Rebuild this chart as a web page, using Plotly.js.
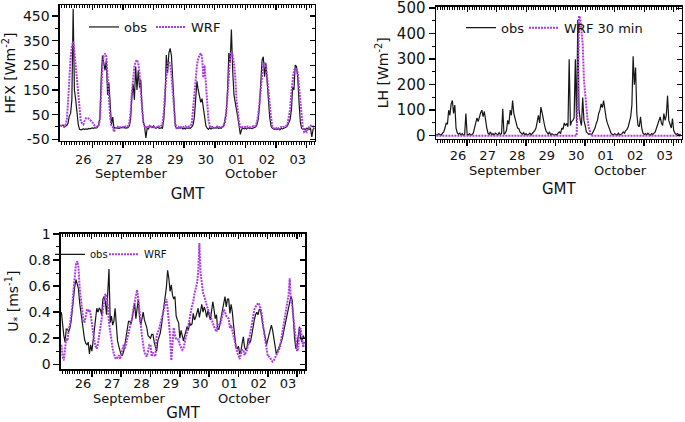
<!DOCTYPE html>
<html><head><meta charset="utf-8">
<script src="https://cdn.plot.ly/plotly-3.0.1.min.js"></script>
<style>html,body{margin:0;padding:0;background:#fff;}#chart{width:685px;height:422px;}</style>
</head><body><div id="chart"></div>
<script>
// ---------- time grid (hours since 25 Sep 00:00 GMT, hourly) ----------
const hourlyTimes = [];
for (let h = -1; h <= 198; h++) hourlyTimes.push(h);

// ---------- tick labels ----------
const dayTickHours = [24, 48, 72, 96, 120, 144, 168, 192];
const dayLabels = ['26', '27', '28', '29', '30', '01', '02', '03'];
const monthLabels = ['September', 'October'];
const monthLabelHours = [55, 149];
const hfxTicks = [-50, 50, 150, 250, 350, 450];
const hfxTickText = ['-50', '50', '150', '250', '350', '450'];
const lhTicks = [0, 100, 200, 300, 400, 500];
const lhTickText = ['0', '100', '200', '300', '400', '500'];
const uTicks = [0, 0.2, 0.4, 0.6, 0.8, 1];
const uTickText = ['0', '0.2', '0.4', '0.6', '0.8', '1'];

// ---------- HFX [W m-2] ----------
const hfxObs = [8,
  5, 8, 2, 3, 6, 15, 45, 55, 110, 480, 150, 110, 55, 10, -10, -12, -10, -8, -10, -8, -10, -6, -8, -5,
  -4, -6, -3, -5, -2, 10, 40, 200, 290, 260, 230, 270, 130, 180, 60, 10, 40, -5, -3, -4, -2, -6, -3, -2,
  -3, -2, -5, -4, -3, 5, 30, 120, 175, 110, 245, 150, 230, 160, 190, 80, 20, 0, -45, -5, -8, 5, 0, -2,
  5, -3, -5, 0, -4, -6, -3, -5, 30, 110, 292, 218, 300, 319, 290, 177, 69, 5, -5, -6, -3, -5, -2, -8,
  -5, -8, -3, -6, -4, -5, 0, 10, 40, 120, 185, 150, 117, 100, 115, 83, 36, 5, -5, -10, -3, -8, -5, -3,
  -3, -5, -2, -6, -3, -5, 0, 5, 30, 60, 150, 300, 260, 395, 230, 130, 100, 60, 40, 5, -30, -10, -5, -8,
  -5, -8, -3, -6, -4, -7, -5, -3, 0, 10, 30, 83, 200, 270, 285, 204, 258, 180, 120, 40, 5, -5, -8, -10,
  -8, -10, -5, -12, -6, -8, -5, -3, 0, 5, 15, 30, 69, 160, 150, 251, 245, 200, 100, 20, -5, -10, -8, -10,
  -5, -8, -10, -6, -40, -10, -5];
const hfxWrf = [4,
  5, 2, 0, 8, 28, 100, 200, 280, 330, 346, 305, 250, 180, 110, 69, 22, 15, 10, 25, 35, 33, 35, 30, 25,
  20, 10, 5, 0, 2, 5, 30, 150, 250, 290, 298, 285, 200, 110, 40, 5, 0, -20, -5, 2, 0, 3, -2, 0,
  0, -3, 2, 0, 3, 15, 60, 140, 200, 245, 265, 272, 260, 220, 140, 70, 20, 3, -5, 0, -2, 5, 0, -3,
  0, -5, -3, 0, 2, 0, 5, 15, 60, 140, 210, 258, 265, 255, 210, 150, 70, 15, -5, -8, 0, -3, 2, 0,
  0, 3, -2, 0, 2, 5, 15, 80, 137, 200, 250, 280, 292, 299, 285, 200, 250, 160, 90, 30, 5, -3, 0, -5,
  -3, 0, 2, -2, 0, 3, 0, 5, 20, 60, 130, 220, 280, 306, 290, 258, 204, 110, 60, 20, -5, -3, 0, -2,
  0, -3, 2, 0, -2, 0, 3, 0, 5, 20, 49, 100, 163, 225, 255, 262, 251, 200, 140, 80, 42, 5, -5, -8,
  -5, -3, -8, -5, 0, -3, 0, 2, 5, 15, 40, 70, 140, 190, 230, 238, 235, 220, 163, 90, 20, -5, -20, -15,
  -20, -5, 0, 5, 3, 0, 2];

// ---------- LH [W m-2] ----------
const lhObs = [5,
  3, 8, 5, 2, 10, 15, 30, 50, 45, 100, 80, 125, 138, 87, 120, 30, 12, 5, 10, 3, 8, 2, 5, 87,
  5, 3, 8, 2, 5, 10, 30, 50, 70, 55, 80, 90, 100, 75, 95, 50, 30, 10, 5, 15, 3, 8, 2, 10,
  5, 3, 12, 5, 8, 106, 5, 10, 20, 60, 45, 100, 80, 138, 87, 60, 48, 30, 28, 15, 10, 5, 12, 3,
  8, 2, 5, 10, 3, 8, 15, 20, 30, 60, 80, 50, 112, 90, 60, 40, 20, 10, 5, 15, 3, 8, 5, 2,
  5, 3, 10, 15, 8, 30, 25, 50, 40, 48, 35, 300, 40, 55, 60, 70, 300, 50, 455, 100, 60, 40, 150, 60,
  40, 15, 10, 5, 8, 3, 10, 20, 30, 48, 60, 87, 100, 125, 110, 138, 100, 70, 50, 35, 20, 10, 5, 3,
  8, 5, 2, 10, 3, 5, 8, 15, 10, 20, 25, 35, 60, 74, 120, 312, 200, 267, 87, 40, 35, 74, 30, 10,
  5, 8, 3, 10, 5, 2, 8, 5, 10, 15, 30, 45, 60, 74, 50, 40, 87, 60, 80, 157, 60, 40, 30, 67,
  20, 10, 5, 8, 3, 5, 2];
const lhWrfTimes = [-1, 113, 114, 115, 116, 117, 118, 119, 120, 121, 122, 123, 124, 125, 198];
const lhWrf = [0, 0, 150, 470, 460, 420, 360, 220, 160, 100, 60, 30, 10, 0, 0];

// ---------- U* [m s-1] ----------
const ustarObs = [0.40,
  0.30, 0.22, 0.17, 0.27, 0.27, 0.25, 0.28, 0.33, 0.42, 0.52, 0.60, 0.65, 0.60, 0.58, 0.47, 0.40, 0.32, 0.22, 0.19, 0.16, 0.15, 0.17, 0.08, 0.15,
  0.10, 0.18, 0.28, 0.36, 0.43, 0.40, 0.43, 0.42, 0.38, 0.50, 0.52, 0.48, 0.38, 0.55, 0.73, 0.32, 0.37, 0.30, 0.33, 0.43, 0.25, 0.18, 0.14, 0.10,
  0.07, 0.07, 0.10, 0.15, 0.20, 0.26, 0.33, 0.33, 0.31, 0.35, 0.41, 0.47, 0.35, 0.45, 0.50, 0.36, 0.30, 0.35, 0.40, 0.34, 0.31, 0.28, 0.22, 0.21,
  0.20, 0.23, 0.23, 0.17, 0.13, 0.10, 0.18, 0.21, 0.24, 0.30, 0.37, 0.44, 0.50, 0.59, 0.72, 0.66, 0.56, 0.61, 0.53, 0.50, 0.52, 0.37, 0.34, 0.32,
  0.20, 0.26, 0.22, 0.18, 0.22, 0.27, 0.29, 0.26, 0.32, 0.30, 0.31, 0.39, 0.34, 0.36, 0.40, 0.43, 0.36, 0.40, 0.46, 0.40, 0.44, 0.41, 0.36, 0.41,
  0.37, 0.34, 0.41, 0.48, 0.42, 0.35, 0.38, 0.27, 0.27, 0.32, 0.40, 0.45, 0.50, 0.52, 0.44, 0.50, 0.50, 0.39, 0.46, 0.40, 0.30, 0.22, 0.13, 0.12,
  0.14, 0.08, 0.10, 0.16, 0.21, 0.13, 0.11, 0.13, 0.20, 0.16, 0.18, 0.23, 0.30, 0.34, 0.38, 0.40, 0.38, 0.42, 0.42, 0.34, 0.30, 0.25, 0.20, 0.15,
  0.19, 0.23, 0.26, 0.30, 0.26, 0.20, 0.13, 0.08, 0.10, 0.13, 0.15, 0.17, 0.20, 0.25, 0.30, 0.34, 0.40, 0.44, 0.48, 0.52, 0.49, 0.33, 0.20, 0.12,
  0.14, 0.22, 0.29, 0.20, 0.17, 0.22, 0.20];
const ustarWrf = [0.15,
  0.06, 0.03, 0.13, 0.20, 0.18, 0.27, 0.30, 0.36, 0.45, 0.58, 0.70, 0.77, 0.79, 0.75, 0.58, 0.50, 0.43, 0.34, 0.32, 0.37, 0.42, 0.41, 0.42, 0.38,
  0.30, 0.23, 0.18, 0.14, 0.12, 0.16, 0.22, 0.28, 0.35, 0.43, 0.49, 0.54, 0.52, 0.45, 0.32, 0.24, 0.16, 0.12, 0.08, 0.05, 0.04, 0.06, 0.07, 0.04,
  0.08, 0.13, 0.15, 0.12, 0.16, 0.21, 0.24, 0.30, 0.32, 0.36, 0.43, 0.48, 0.55, 0.57, 0.50, 0.39, 0.33, 0.22, 0.15, 0.09, 0.07, 0.06, 0.10, 0.15,
  0.15, 0.06, 0.09, 0.07, 0.06, 0.22, 0.24, 0.27, 0.31, 0.35, 0.39, 0.42, 0.46, 0.50, 0.43, 0.34, 0.22, 0.03, 0.20, 0.28, 0.22, 0.19, 0.19, 0.19,
  0.15, 0.13, 0.11, 0.12, 0.18, 0.21, 0.25, 0.31, 0.34, 0.40, 0.45, 0.48, 0.54, 0.58, 0.62, 0.70, 0.93, 0.70, 0.61, 0.55, 0.52, 0.48, 0.45, 0.42,
  0.40, 0.37, 0.35, 0.31, 0.29, 0.27, 0.25, 0.31, 0.31, 0.30, 0.35, 0.40, 0.42, 0.40, 0.37, 0.36, 0.35, 0.28, 0.30, 0.26, 0.21, 0.18, 0.12, 0.09,
  0.07, 0.04, 0.08, 0.11, 0.11, 0.07, 0.09, 0.11, 0.15, 0.21, 0.26, 0.32, 0.38, 0.42, 0.44, 0.45, 0.47, 0.46, 0.43, 0.39, 0.31, 0.24, 0.16, 0.10,
  0.06, 0.06, 0.05, 0.03, 0.02, 0.03, 0.05, 0.07, 0.09, 0.11, 0.13, 0.19, 0.25, 0.31, 0.36, 0.42, 0.49, 0.53, 0.66, 0.49, 0.45, 0.36, 0.28, 0.21,
  0.10, 0.12, 0.27, 0.27, 0.20, 0.13, 0.18];

// ---------- styling ----------
const FONT = '"DejaVu Sans", "Liberation Sans", Arial, sans-serif';
const INK = '#111';
const OBS_COLOR = '#161616';
const WRF_COLOR = '#a93de0';
const XRANGE = [-1.3, 198.5];

function obsTrace(x, y, xa, ya, legend) {
  return {type: 'scatter', mode: 'lines', x: x, y: y, name: 'obs', xaxis: xa, yaxis: ya,
    legend: legend, line: {color: OBS_COLOR, width: 1.2}, hoverinfo: 'skip'};
}
function wrfTrace(x, y, xa, ya, legend, name) {
  return {type: 'scatter', mode: 'lines', x: x, y: y, name: name, xaxis: xa, yaxis: ya,
    legend: legend, line: {color: WRF_COLOR, width: 2, dash: '2px,1px'}, hoverinfo: 'skip'};
}
function dummy(xa, ya) {
  return {type: 'scatter', mode: 'lines', x: [null], y: [null], xaxis: xa, yaxis: ya,
    showlegend: false, hoverinfo: 'skip'};
}

const traces = [
  obsTrace(hourlyTimes, hfxObs, 'x', 'y', 'legend'),
  wrfTrace(hourlyTimes, hfxWrf, 'x', 'y', 'legend2', 'WRF'),
  obsTrace(hourlyTimes, lhObs, 'x2', 'y2', 'legend3'),
  wrfTrace(lhWrfTimes, lhWrf, 'x2', 'y2', 'legend4', 'WRF 30 min'),
  obsTrace(hourlyTimes, ustarObs, 'x3', 'y3', 'legend5'),
  wrfTrace(hourlyTimes, ustarWrf, 'x3', 'y3', 'legend6', 'WRF'),
  dummy('x4', 'y4'), dummy('x5', 'y5'), dummy('x6', 'y6')
];

function bottomAxis(domain, anchor, standoff, labelStandoff) {
  return {domain: domain, anchor: anchor, range: XRANGE, tickmode: 'array',
    tickvals: dayTickHours, ticktext: dayLabels, ticks: 'outside', ticklen: 6, tickwidth: 1.5,
    tickcolor: '#000', ticklabelshift: -9, ticklabelstandoff: labelStandoff,
    ticklabeloverflow: 'allow',
    minor: {tickmode: 'linear', tick0: 0, dtick: 2, ticks: 'outside', ticklen: 3, tickwidth: 1, tickcolor: '#000'},
    showline: true, linewidth: 1.5, linecolor: '#000', showgrid: false, zeroline: false,
    automargin: false, fixedrange: true,
    tickfont: {family: FONT, size: 13, color: INK},
    title: {text: 'GMT', font: {family: FONT, size: 15, color: INK}, standoff: standoff}};
}
function topAxis(over, anchor) {
  return {overlaying: over, side: 'top', anchor: anchor, range: XRANGE, tickmode: 'array',
    tickvals: dayTickHours, ticks: 'inside', ticklen: 5, tickwidth: 1.2, tickcolor: '#000',
    minor: {tickmode: 'linear', tick0: 0, dtick: 2, ticks: 'inside', ticklen: 3, tickwidth: 1, tickcolor: '#000'},
    showticklabels: false, showline: true, linewidth: 1.5, linecolor: '#000',
    showgrid: false, zeroline: false, automargin: false, fixedrange: true};
}
function leftAxis(domain, anchor, range, tickvals, ticktext, minorStep, title, fontSize, standoff) {
  return {domain: domain, anchor: anchor, range: range, tickmode: 'array', tickvals: tickvals,
    ticktext: ticktext, ticklabeloverflow: 'allow',
    ticks: 'outside', ticklen: 6, tickwidth: 1.5, tickcolor: '#000',
    minor: {tickmode: 'linear', tick0: 0, dtick: minorStep, ticks: 'outside', ticklen: 3, tickwidth: 1, tickcolor: '#000'},
    showline: true, linewidth: 1.5, linecolor: '#000', showgrid: false, zeroline: false,
    automargin: false, fixedrange: true,
    tickfont: {family: FONT, size: fontSize, color: INK},
    title: {text: title, font: {family: FONT, size: 14, color: INK}, standoff: standoff}};
}
function rightAxis(over, anchor, range, tickvals, minorStep) {
  return {overlaying: over, side: 'right', anchor: anchor, range: range, tickmode: 'array',
    tickvals: tickvals, ticks: 'inside', ticklen: 5, tickwidth: 1.2, tickcolor: '#000',
    minor: {tickmode: 'linear', tick0: 0, dtick: minorStep, ticks: 'inside', ticklen: 3, tickwidth: 1, tickcolor: '#000'},
    showticklabels: false, showline: true, linewidth: 1.5, linecolor: '#000',
    showgrid: false, zeroline: false, automargin: false, fixedrange: true};
}

const hfxRange = [-57, 495];
const lhRange = [-13, 506];
const uRange = [-0.036, 1.003];

const dTL = {x: [0.08759, 0.45985], y: [0.6659, 0.98815]};
const dTR = {x: [0.63650, 0.99518], y: [0.67062, 0.98412]};
const dBL = {x: [0.08905, 0.44526], y: [0.12559, 0.44668]};

function monthAnn(xref, y) {
  return monthLabels.map((t, i) => ({xref: xref, yref: 'paper', x: monthLabelHours[i], y: y,
    text: t, showarrow: false, xanchor: 'center', yanchor: 'middle',
    font: {family: FONT, size: 13, color: INK}}));
}

function legendBox(xpx, ypx, size) {
  return {x: xpx / 685, y: 1 - ypx / 422, xanchor: 'left', yanchor: 'middle', orientation: 'h',
    bgcolor: 'rgba(0,0,0,0)', borderwidth: 0, font: {family: FONT, size: size, color: INK},
    itemwidth: 30};
}

const layout = {
  width: 685, height: 422, margin: {l: 0, r: 0, t: 0, b: 0},
  paper_bgcolor: '#fff', plot_bgcolor: '#fff', showlegend: true,
  xaxis: bottomAxis(dTL.x, 'y', 22, 0),
  yaxis: leftAxis(dTL.y, 'x', hfxRange, hfxTicks, hfxTickText, 50, 'HFX [Wm<sup>-2</sup>]', 14, 4),
  xaxis4: topAxis('x', 'y4'),
  yaxis4: rightAxis('y', 'x4', hfxRange, hfxTicks, 50),
  xaxis2: bottomAxis(dTR.x, 'y2', 21, -2),
  yaxis2: leftAxis(dTR.y, 'x2', lhRange, lhTicks, lhTickText, 50, 'LH [Wm<sup>-2</sup>]', 15, 5),
  xaxis5: topAxis('x2', 'y5'),
  yaxis5: rightAxis('y2', 'x5', lhRange, lhTicks, 50),
  xaxis3: bottomAxis(dBL.x, 'y3', 18, -4),
  yaxis3: leftAxis(dBL.y, 'x3', uRange, uTicks, uTickText, 0.1, 'U<sub>*</sub> [ms<sup>-1</sup>]', 14, 6),
  xaxis6: topAxis('x3', 'y6'),
  yaxis6: rightAxis('y3', 'x6', uRange, uTicks, 0.1),
  legend: legendBox(84, 27, 13),
  legend2: legendBox(151, 27, 13),
  legend3: legendBox(461, 27.7, 13),
  legend4: legendBox(524, 27.7, 13),
  legend5: legendBox(50, 254.3, 10),
  legend6: legendBox(104, 254.3, 10),
  annotations: [].concat(monthAnn('x', 0.590), monthAnn('x2', 0.596), monthAnn('x3', 0.0557))
};

Plotly.newPlot('chart', traces, layout, {staticPlot: true, displayModeBar: false});
</script></body></html>
